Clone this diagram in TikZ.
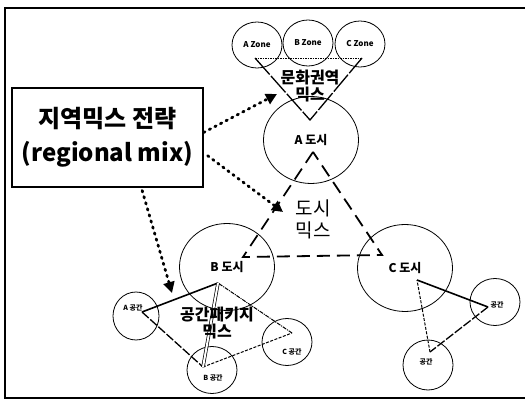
\documentclass[tikz,border=0pt]{standalone}
\usepackage{fontspec}
\newfontfamily\kr{Noto Sans CJK KR}
\usetikzlibrary{arrows.meta,shapes.geometric}

\begin{document}
\begin{tikzpicture}[x=1pt,y=-1pt,
 zone/.style={draw,ellipse,inner sep=0pt,line width=0.8pt,minimum width=50pt,minimum height=46pt,font=\kr\bfseries\fontsize{8}{9}\selectfont},
 city/.style={draw,ellipse,inner sep=0pt,line width=0.8pt,minimum width=95pt,minimum height=87pt,font=\kr\bfseries\fontsize{12}{13}\selectfont},
 spc/.style={draw,ellipse,inner sep=0pt,line width=0.8pt,minimum width=50pt,minimum height=47pt},
 tag/.style={inner sep=0pt,font=\kr\bfseries\fontsize{7}{8}\selectfont},
 mix/.style={align=center,inner sep=0pt,font=\kr\bfseries\fontsize{16}{17}\selectfont},
 dotarr/.style={line width=2.8pt,line cap=round,dash pattern=on 1.5pt off 4.8pt,-{Triangle[length=11pt,width=11pt]}},
 cityline/.style={line width=1.8pt,dash pattern=on 13pt off 7pt},
 boldlink/.style={line width=1.6pt},
 dashlink/.style={line width=1.3pt,dash pattern=on 9pt off 2pt},
 thinlink/.style={line width=1pt,dash pattern=on 3pt off 1.5pt}]
\useasboundingbox (0,0) rectangle (525,403);
\draw[line width=1.2pt] (525,8) -- (5,8) -- (5,398) -- (525,398);

% strategy box
\node[draw,line width=1.3pt,minimum width=191pt,minimum height=99pt,align=center,
  font=\kr\bfseries\fontsize{24}{34}\selectfont] (regbox) at (107.5,137.5) {지역믹스 전략\\(regional mix)};

% zones and cities
\node[zone] (zoneA) at (257,45) {A Zone};
\node[zone] (zoneB) at (308,43) {B Zone};
\node[zone] (zoneC) at (360,44) {C Zone};
\node[city] (cityA) at (311,140) {A 도시};
\node[city] (cityB) at (227,267) {B 도시};
\node[city] (cityC) at (405,268) {C 도시};

% spaces round B and C
\node[spc,minimum width=46pt,minimum height=48pt] (spaceA) at (136,316) {};
\node[spc] (spaceB) at (212,370) {};
\node[spc] (spaceC) at (287,342) {};
\node[spc] (spaceR) at (495,302) {};
\node[spc,minimum height=50pt] (spaceL) at (428,365) {};
\node[tag] (tagA) at (133,308) {A 공간};
\node[tag] (tagB) at (213,378) {B 공간};
\node[tag] (tagC) at (292,352) {C 공간};
\node[tag] (tagR) at (497,305) {공간};
\node[tag] (tagL) at (426,362) {공간};

% corner points
\coordinate (cultL) at (255,58);
\coordinate (cultR) at (362,58);
\coordinate (cultApex) at (310,120);
\coordinate (tA) at (313,152);
\coordinate (tB) at (243,257);
\coordinate (tC) at (382,255);
\coordinate (pTop) at (218,283);
\coordinate (pA) at (142,312);
\coordinate (pB) at (203,367);
\coordinate (pC) at (292,333);
\coordinate (qTop) at (417,280);
\coordinate (qR) at (488,307);
\coordinate (qL) at (430,352);
\coordinate (tipCult) at (277,94);
\coordinate (tipCity) at (283,212);
\coordinate (tipPack) at (172,293);

% cultural area mix
\draw[line width=0.9pt,dash pattern=on 1.5pt off 1pt] (cultL) -- (cultR);
\draw[line width=1.3pt,dash pattern=on 22pt off 2pt] (cultL) -- (cultApex) -- (cultR);
\node[mix] (cultmix) at (310,86) {문화권역\\믹스};

% city mix
\draw[cityline] (tA) -- (tB) -- (tC) -- cycle;
\node[mix,font=\kr\fontsize{19}{22}\selectfont] (citymix) at (313,219) {도시\\믹스};

% space package mix
\draw[boldlink] (pTop) -- (pA);
\draw[dashlink] (pA) -- (pB);
\draw[thinlink] (pB) -- (pC);
\draw[line width=1pt,dash pattern=on 4pt off 1pt on 1pt off 1pt] (pC) -- (pTop);
\draw[double,line width=0.7pt,double distance=2pt] (pTop) -- (pB);
\node[mix] (packmix) at (217,323) {공간패키지\\믹스};

\draw[boldlink] (qTop) -- (qR);
\draw[dashlink] (qR) -- (qL);
\draw[thinlink] (qL) -- (qTop);

% strategy arrows
\draw[dotarr] (regbox.3) -- (tipCult);
\draw[dotarr,shorten <=5pt] (regbox.-9) -- (tipCity);
\draw[dotarr,shorten <=3pt] (regbox.-56) -- (tipPack);
\end{tikzpicture}
\end{document}
